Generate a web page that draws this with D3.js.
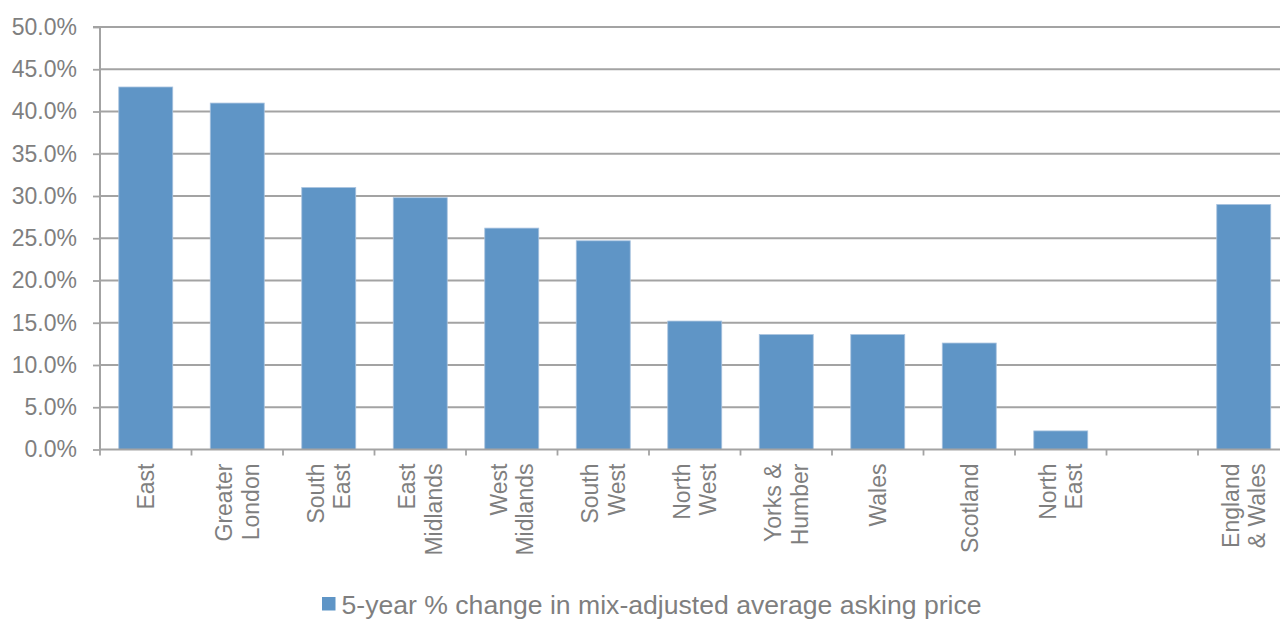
<!DOCTYPE html>
<html><head><meta charset="utf-8">
<script src="https://cdn.jsdelivr.net/npm/d3@7"></script>
<style>
body{margin:0;background:#fff;}
svg text{font-family:"Liberation Sans",Arial,sans-serif;fill:#7f7f7f;}
</style>
</head><body>
<svg id="chart" width="1280" height="619"></svg>
<script>
// ---- data ----
const categories = ["East","Greater London","South East","East Midlands","West Midlands","South West","North West","Yorks & Humber","Wales","Scotland","North East","","England & Wales"];
const labelLines = [["East"],["Greater","London"],["South","East"],["East","Midlands"],["West","Midlands"],["South","West"],["North","West"],["Yorks &","Humber"],["Wales"],["Scotland"],["North","East"],[],["England","& Wales"]];
const values = [42.9, 41.0, 31.0, 29.8, 26.2, 24.7, 15.2, 13.6, 13.6, 12.6, 2.2, null, 29.0];
const yTicks = [0, 5, 10, 15, 20, 25, 30, 35, 40, 45, 50];
const seriesName = "5-year % change in mix-adjusted average asking price";

// ---- layout ----
const svg = d3.select("#chart");
const mLeft = 100, mRight = 1289.5, mTop = 27, mBottom = 449.5;
const keys = categories.map((c, i) => String(i));
const x = d3.scaleBand().domain(keys).range([mLeft, mRight]).paddingInner(0.41).paddingOuter(0.205);
const y = d3.scaleLinear().domain([0, 50]).range([mBottom, mTop]);
const gridColor = "#a3a3a3";
const barColor = "#5f95c6";

// gridlines
svg.append("g").selectAll("line").data(yTicks.filter(d => d > 0)).join("line")
  .attr("x1", mLeft).attr("x2", mRight)
  .attr("y1", d => y(d)).attr("y2", d => y(d))
  .attr("stroke", gridColor).attr("stroke-width", 1.8);

// bars
const rows = categories.map((c, i) => ({key: keys[i], v: values[i]})).filter(d => d.v != null);
svg.append("g").selectAll("rect").data(rows).join("rect")
  .attr("x", d => x(d.key)).attr("width", x.bandwidth())
  .attr("y", d => y(d.v)).attr("height", d => y(0) - y(d.v))
  .attr("fill", barColor).attr("stroke", "#a9c3df").attr("stroke-width", 0.8);

// y axis
const yAxis = d3.axisLeft(y).tickValues(yTicks).tickSize(7).tickPadding(16)
  .tickFormat(d => d.toFixed(1) + "%");
const gy = svg.append("g").attr("transform", `translate(${mLeft},0)`).call(yAxis);
gy.select(".domain").attr("stroke", gridColor).attr("stroke-width", 2)
  .attr("d", `M-7,${mTop}H0V${mBottom}`);
gy.selectAll(".tick line").attr("stroke", gridColor).attr("stroke-width", 1.8);
gy.selectAll(".tick text").attr("font-size", 23).attr("fill", "#7f7f7f")
  .attr("font-family", "Liberation Sans, Arial, sans-serif");

// x axis
const step = x.step();
const boundaries = d3.range(keys.length + 1).map(i => mLeft + i * step);
svg.append("line").attr("x1", mLeft).attr("x2", mRight).attr("y1", mBottom).attr("y2", mBottom)
  .attr("stroke", gridColor).attr("stroke-width", 2);
svg.append("g").selectAll("line").data(boundaries).join("line")
  .attr("x1", d => d).attr("x2", d => d).attr("y1", mBottom).attr("y2", mBottom + 6)
  .attr("stroke", gridColor).attr("stroke-width", 1.8);

// x labels (rotated)
const lh = 26.6;
const lab = svg.append("g").selectAll("g").data(keys).join("g")
  .attr("transform", d => `translate(${x(d) + x.bandwidth() / 2},${mBottom + 14}) rotate(-90)`);
lab.each(function(d, i) {
  const lines = labelLines[i];
  const n = lines.length;
  const t = d3.select(this).append("text").attr("text-anchor", "end").attr("font-size", 23);
  lines.forEach((s, j) => {
    t.append("tspan").attr("x", 0).attr("y", (j - (n - 1) / 2) * lh).attr("dy", "0.36em").text(s);
  });
});

// legend
const lg = svg.append("g").attr("transform", "translate(322,597)");
lg.append("rect").attr("width", 13.5).attr("height", 13.5).attr("fill", barColor);
lg.append("text").attr("x", 19.5).attr("y", 16.5).attr("font-size", 26.6).text(seriesName);
</script>
</body></html>
